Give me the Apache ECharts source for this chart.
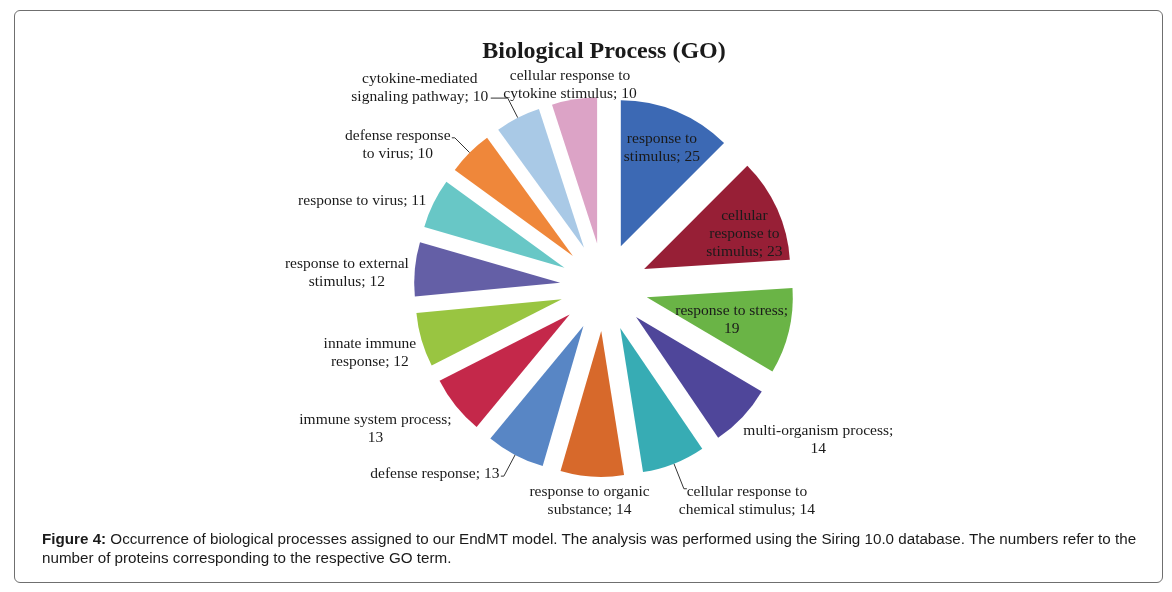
<!DOCTYPE html>
<html>
<head>
<meta charset="utf-8">
<script src="https://cdn.jsdelivr.net/npm/echarts@6/dist/echarts.min.js"></script>
<style>
  html, body { margin: 0; padding: 0; background: #ffffff; }
  #frame { position: absolute; left: 14px; top: 10px; width: 1149px; height: 573px;
           border: 1px solid #6f6f6f; border-radius: 6px; box-sizing: border-box; }
  #chart { position: absolute; left: 0; top: 0; width: 1172px; height: 592px; }
  #caption { position: absolute; left: 42px; top: 529px; width: 1115px;
             font-family: "Liberation Sans", Arial, sans-serif; font-size: 15.2px; line-height: 19px; color: #1a1a1a; }
</style>
</head>
<body>
<div id="frame"></div>
<div id="chart"></div>
<div id="caption"><b>Figure 4:</b> Occurrence of biological processes assigned to our EndMT model. The analysis was performed using the Siring 10.0 database. The numbers refer to the<br>number of proteins corresponding to the respective GO term.</div>
<script>
// ---- data ----
const categories = [
  'response to stimulus',
  'cellular response to stimulus',
  'response to stress',
  'multi-organism process',
  'cellular response to chemical stimulus',
  'response to organic substance',
  'defense response',
  'immune system process',
  'innate immune response',
  'response to external stimulus',
  'response to virus',
  'defense response to virus',
  'cytokine-mediated signaling pathway',
  'cellular response to cytokine stimulus'
];
const values = [25, 23, 19, 14, 14, 14, 13, 13, 12, 12, 11, 10, 10, 10];
const labelTexts = [
  'response to\nstimulus; 25',
  'cellular\nresponse to\nstimulus; 23',
  'response to stress;\n19',
  'multi-organism process;\n14',
  'cellular response to\nchemical stimulus; 14',
  'response to organic\nsubstance; 14',
  'defense response; 13',
  'immune system process;\n13',
  'innate immune\nresponse; 12',
  'response to external\nstimulus; 12',
  'response to virus; 11',
  'defense response\nto virus; 10',
  'cytokine-mediated\nsignaling pathway; 10',
  'cellular response to\ncytokine stimulus; 10'
];

// ---- styles ----
const colors = ['#3C69B4', '#971F36', '#6AB446', '#4F469A', '#37ACB4', '#D7692B', '#5886C5',
                '#C4284A', '#99C541', '#645FA6', '#68C7C6', '#EF873A', '#A9C9E6', '#DCA3C6'];
const insideIdx = [0, 1, 2];
// leader line per slice: [length, length2]
const leader = {
  4: [27, 3],
  6: [24, 3],
  11: [21, 3],
  12: [22, 17]
};
const labelShift = [
  [12, -28], [31, -4], [11, 5],
  [57, 17], [55, 12], [11, 16], [-61, -2], [-61, 18], [-31, 11],
  [-47, 5], [-51, 1], [-49, 7], [-66, -10], [10, -7]
];

const chart = echarts.init(document.getElementById('chart'), null, { renderer: 'canvas' });
const seriesData = categories.map((name, i) => {
  const ld = leader[i];
  return {
    name: name,
    value: values[i],
    selected: true,
    itemStyle: { color: colors[i] },
    label: {
      position: insideIdx.includes(i) ? 'inside' : 'outside',
      formatter: labelTexts[i]
    },
    labelLine: ld ? { show: true, length: ld[0], length2: ld[1] } : { show: false }
  };
});

chart.setOption({
  animation: false,
  backgroundColor: 'transparent',
  title: {
    text: 'Biological Process (GO)',
    left: 599,
    textAlign: 'center',
    top: 35,
    textStyle: { fontFamily: 'Liberation Serif', fontSize: 24, fontWeight: 'bold', color: '#1a1a1a' }
  },
  series: [{
    type: 'pie',
    center: [604, 287],
    radius: [0, 146],
    startAngle: 90,
    clockwise: true,
    selectedMode: 'multiple',
    selectedOffset: 44,
    avoidLabelOverlap: false,
    silent: true,
    emphasis: { disabled: true },
    select: { itemStyle: { borderWidth: 0 } },
    itemStyle: { borderWidth: 0 },
    label: {
      show: true,
      fontFamily: 'Liberation Serif',
      fontSize: 15.5,
      lineHeight: 18,
      color: '#1a1a1a'
    },
    labelLine: {
      show: false,
      length: 8,
      length2: 8,
      lineStyle: { color: '#333', width: 1 }
    },
    labelLayout: function (p) {
      const s = labelShift[p.dataIndex];
      return { align: 'center', verticalAlign: 'middle', dx: s[0], dy: s[1] };
    },
    data: seriesData
  }]
});
</script>
</body>
</html>
